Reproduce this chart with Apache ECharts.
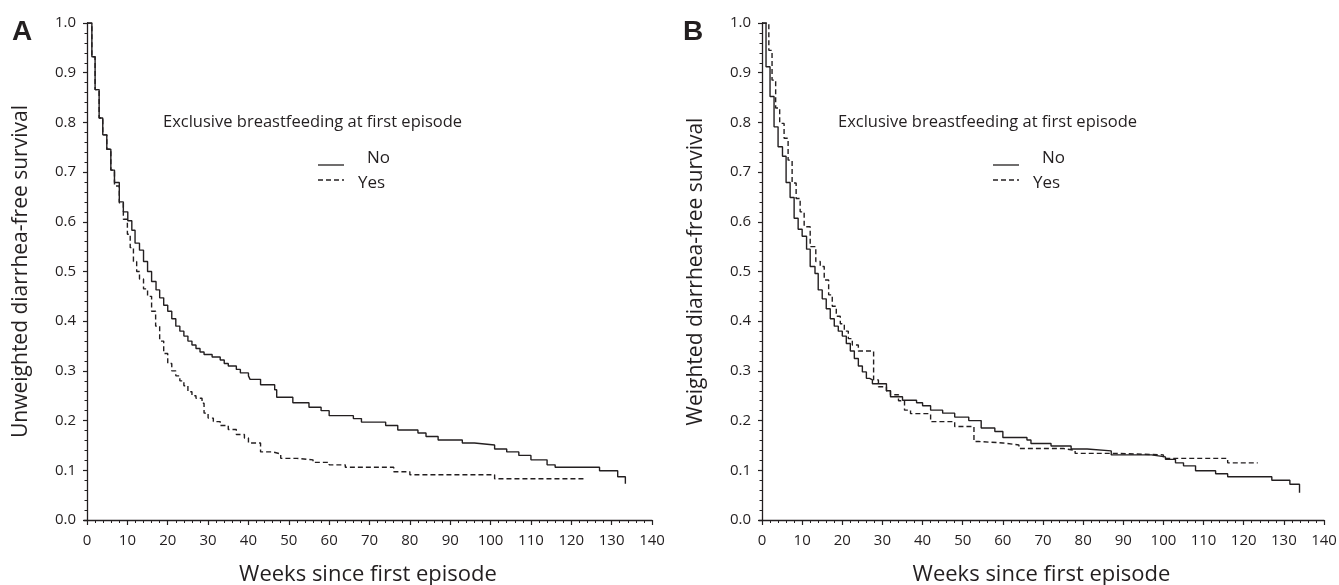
<!DOCTYPE html>
<html>
<head>
<meta charset="utf-8">
<script src="https://cdn.jsdelivr.net/npm/echarts@6/dist/echarts.min.js"></script>
<style>
html,body{margin:0;padding:0;background:#fff;}
#chart{width:1339px;height:585px;}
</style>
</head>
<body>
<div id="chart"></div>
<script>
// ---- Data ----
const xTicks = [0,10,20,30,40,50,60,70,80,90,100,110,120,130,140];
const yTicks = [0,0.1,0.2,0.3,0.4,0.5,0.6,0.7,0.8,0.9,1.0];

// Panel A: unweighted, "No"
const weeksANo = [0,1.2,2,3,3.9,4.9,5.9,6.8,8,9,10.1,11.1,11.9,13,14,15,16,17.1,18,19,20,21,22,23,24,25,26,27,28,29,31,33,34,35,37,38,40,40.4,43,46.5,47,51,55,58,60,66,68,74,77,82,84,87,93,96,101,104,107,110,114,116,127,131.5,133.4];
const survANo  = [1,0.932,0.866,0.809,0.775,0.746,0.704,0.679,0.640,0.620,0.602,0.583,0.557,0.543,0.520,0.500,0.480,0.463,0.447,0.432,0.420,0.405,0.390,0.380,0.370,0.360,0.352,0.345,0.338,0.333,0.328,0.322,0.315,0.310,0.303,0.296,0.290,0.283,0.272,0.262,0.247,0.236,0.227,0.220,0.210,0.204,0.197,0.190,0.181,0.175,0.168,0.161,0.155,0.151,0.143,0.137,0.130,0.121,0.111,0.106,0.099,0.087,0.073];
// Panel A: unweighted, "Yes"
const weeksAYes = [0,1.2,2,3,3.9,4.9,5.9,6.8,8,9,10,10.7,11.5,12.3,13,14,15,16,17,18,19,20,21,22,23,24,25,26,27,28.5,29,30,31.3,33,35,37,39,40,43,46,48,52,56,60,64,76,80,101,123.5];
const survAYes  = [1,0.932,0.866,0.809,0.775,0.746,0.704,0.672,0.638,0.605,0.575,0.548,0.520,0.500,0.485,0.465,0.450,0.420,0.390,0.360,0.335,0.315,0.300,0.290,0.280,0.270,0.258,0.250,0.245,0.235,0.215,0.205,0.198,0.190,0.182,0.172,0.165,0.155,0.137,0.133,0.124,0.121,0.116,0.111,0.106,0.097,0.091,0.083,0.083];

// Panel B: weighted, "No"
const weeksBNo = [0,1,2,3,4,5.1,6,7,8,9,10,11.1,12,13.2,14,15,16,17,18,19,20,21,22,23,24,25,26,26.8,27.5,31,32,35,38.5,40,42,45,48,51.5,54.6,58,60,66,67,72,77,81,87,97,100.5,103,105,108,113,116,127,131.5,133.9];
const survBNo  = [1,0.912,0.852,0.791,0.751,0.732,0.679,0.649,0.607,0.585,0.571,0.545,0.510,0.496,0.463,0.445,0.425,0.405,0.390,0.380,0.370,0.355,0.340,0.325,0.310,0.298,0.285,0.282,0.274,0.260,0.248,0.241,0.236,0.230,0.221,0.215,0.207,0.200,0.185,0.178,0.166,0.161,0.154,0.149,0.143,0.139,0.131,0.127,0.122,0.115,0.109,0.099,0.093,0.087,0.080,0.072,0.055];
// Panel B: weighted, "Yes"
const weeksBYes = [0,1.7,2.5,3.4,4.4,5.5,6.5,7.5,8.5,9.5,10.5,12,13.4,14.5,15.5,16.6,17.5,18.5,19.5,20.5,21.5,22.5,24,27.8,29,31,32,34,35.5,37,42,48,52.8,54,60,64,75,78,88,100,116,123.5];
const survBYes  = [1,0.945,0.885,0.829,0.798,0.768,0.724,0.678,0.647,0.620,0.590,0.550,0.520,0.510,0.483,0.453,0.430,0.410,0.395,0.380,0.365,0.352,0.340,0.282,0.268,0.260,0.252,0.240,0.221,0.214,0.198,0.188,0.158,0.155,0.151,0.144,0.140,0.134,0.131,0.124,0.115,0.115];

const groupLabels = ['No','Yes'];
const legendTitle = 'Exclusive breastfeeding at first episode';
const xName = 'Weeks since first episode';
const yNameA = 'Unweighted diarrhea-free survival';
const yNameB = 'Weighted diarrhea-free survival';

// ---- Build ----
const zip = (a,b) => a.map((v,i)=>[v,b[i]]);
const INK = '#231f20';
const FONT = 'Open Sans';
const minorX = [];
for (let v=2; v<140; v+=2) if (v%10!==0) minorX.push(v);

function xAxes(gridIndex){
  return [{
    type:'value', gridIndex, min:-0.75, max:140,
    axisLine:{show:true,lineStyle:{color:INK,width:1.3}},
    axisTick:{show:true,length:5,customValues:xTicks,lineStyle:{color:INK,width:1.2}},
    axisLabel:{show:true,customValues:xTicks,color:INK,fontFamily:FONT,fontSize:15,margin:13},
    splitLine:{show:false},
    name:xName,nameLocation:'middle',nameGap:44,
    nameTextStyle:{color:INK,fontFamily:FONT,fontSize:22}
  },{
    type:'value', gridIndex, min:-0.75, max:140, position:'bottom',
    axisLine:{show:false},
    axisTick:{show:true,length:3,customValues:minorX,lineStyle:{color:INK,width:1}},
    axisLabel:{show:false},
    splitLine:{show:false}
  }];
}
function yAxis(gridIndex,name){
  return {
    type:'value', gridIndex, min:0, max:1, interval:0.1,
    axisLine:{show:true,lineStyle:{color:INK,width:1.3}},
    axisTick:{show:true,length:4,lineStyle:{color:INK,width:1.2}},
    minorTick:{show:true,splitNumber:5,length:2.5,lineStyle:{color:INK,width:1}},
    axisLabel:{color:INK,fontFamily:FONT,fontSize:15,margin:8,formatter:v=>v.toFixed(1)},
    splitLine:{show:false},
    name:name,nameLocation:'middle',nameGap:52,
    nameTextStyle:{color:INK,fontFamily:FONT,fontSize:21}
  };
}
function curve(xi,yi,data,dashed){
  return {
    type:'line', xAxisIndex:xi, yAxisIndex:yi, data:data, step:'end',
    showSymbol:false, symbol:'none', silent:true, animation:false,
    lineStyle:{color:INK,width:1.4,type:dashed?[5,3]:'solid'}
  };
}
function legendGraphics(tx, lx, noX, yesX){
  return [
    {type:'text',left:tx,top:114,style:{text:legendTitle,fill:INK,font:'16.5px "Open Sans"'}},
    {type:'line',shape:{x1:lx,y1:165,x2:lx+26,y2:165},style:{stroke:INK,lineWidth:1.3}},
    {type:'text',left:noX,top:150,style:{text:groupLabels[0],fill:INK,font:'17px "Open Sans"'}},
    {type:'line',shape:{x1:lx,y1:180,x2:lx+26,y2:180},style:{stroke:INK,lineWidth:1.3,lineDash:[5,3]}},
    {type:'text',left:yesX,top:175,style:{text:groupLabels[1],fill:INK,font:'17px "Open Sans"'}}
  ];
}

const option = {
  backgroundColor:'#fff',
  animation:false,
  grid:[
    {left:84, top:23, width:568, height:497, outerBoundsMode:'none', containLabel:false},
    {left:759, top:23, width:565, height:497, outerBoundsMode:'none', containLabel:false}
  ],
  xAxis:[...xAxes(0), ...xAxes(1)],
  yAxis:[yAxis(0,yNameA), yAxis(1,yNameB)],
  series:[
    curve(0,0,zip(weeksANo,survANo),false),
    curve(0,0,zip(weeksAYes,survAYes),true),
    curve(2,1,zip(weeksBNo,survBNo),false),
    curve(2,1,zip(weeksBYes,survBYes),true)
  ],
  graphic:[
    {type:'text',left:12,top:18,style:{text:'A',fill:INK,font:'bold 28px "Liberation Sans"'}},
    {type:'text',left:683,top:18,style:{text:'B',fill:INK,font:'bold 28px "Liberation Sans"'}},
    ...legendGraphics(163,318,367,358),
    ...legendGraphics(838,993,1042,1033)
  ]
};
const chart = echarts.init(document.getElementById('chart'),null,{renderer:'canvas'});
chart.setOption(option);
</script>
</body>
</html>
